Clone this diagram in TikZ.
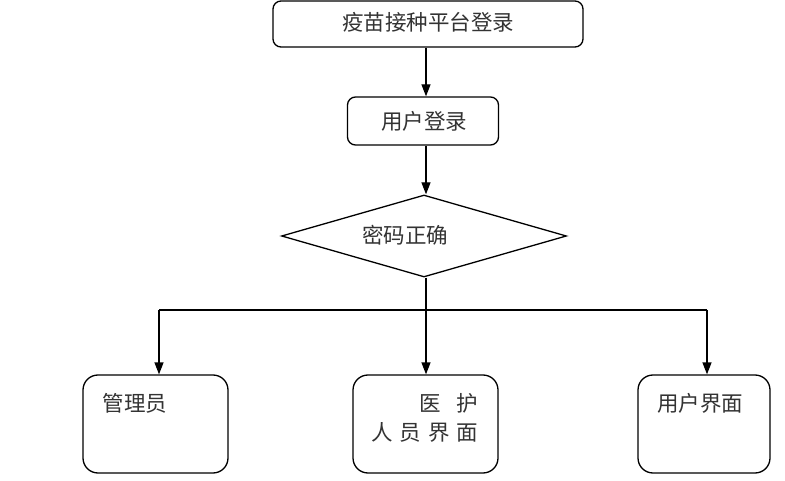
\documentclass[tikz,border=0pt]{standalone}
\usepackage{fontspec}
\setmainfont{Noto Sans CJK SC}
\usetikzlibrary{shapes.geometric,arrows.meta}
\begin{document}
\begin{tikzpicture}[x=1pt,y=-1pt,
  line width=1.3pt,
  box/.style={draw,rounded corners=8pt,inner sep=0pt},
  bigbox/.style={draw,rounded corners=15pt,inner sep=0pt,minimum width=145pt,minimum height=98pt},
  lbl/.style={font=\fontsize{21.5}{26}\selectfont,inner sep=0pt,text=black!80},
  arr/.style={-{Triangle[length=12pt,width=9pt]}}]
\useasboundingbox (0,0) rectangle (785,481);
\fill[white] (0,0) rectangle (785,481);
% top boxes
\node[box,minimum width=310pt,minimum height=46pt] (top) at (428,24) {};
\node[lbl] (toptext) at (428,22) {疫苗接种平台登录};
\node[box,minimum width=151pt,minimum height=48pt] (login) at (423,121) {};
\node[lbl] (logintext) at (424,121) {用户登录};
% diamond
\node[draw,diamond,inner sep=0pt,minimum width=285pt,minimum height=82pt] (dia) at (424,236) {};
\node[lbl] (diatext) at (405,235) {密码正确};
% bottom boxes
\node[bigbox] (admin) at (155.5,424) {};
\node[lbl,anchor=west] (admintext) at (102,403) {管理员};
\node[bigbox] (med) at (425.5,424) {};
\node[lbl,anchor=east] (medtext1) at (479,403) {医\hspace{16pt}护};
\node[lbl,anchor=east] (medtext2) at (479,432) {人\hspace{7pt}员\hspace{7pt}界\hspace{7pt}面};
\node[bigbox,minimum width=132pt] (user) at (704,424) {};
\node[lbl] (usertext) at (700,403) {用户界面};
% connectors
\coordinate (split) at (426,310);
\coordinate (lefttop) at (159,310);
\coordinate (righttop) at (707,310);
\draw[arr] (top.south -| 426,0) -- (login.north -| 426,0);
\draw[arr] (login.south -| 426,0) -- (dia.north -| 426,0);
\draw (dia.south -| 426,0) -- (split);
\draw (lefttop) -- (righttop);
\draw[arr] (split) -- (med.north -| split);
\draw[arr] (lefttop) -- (admin.north -| lefttop);
\draw[arr] (righttop) -- (user.north -| righttop);
\end{tikzpicture}
\end{document}
